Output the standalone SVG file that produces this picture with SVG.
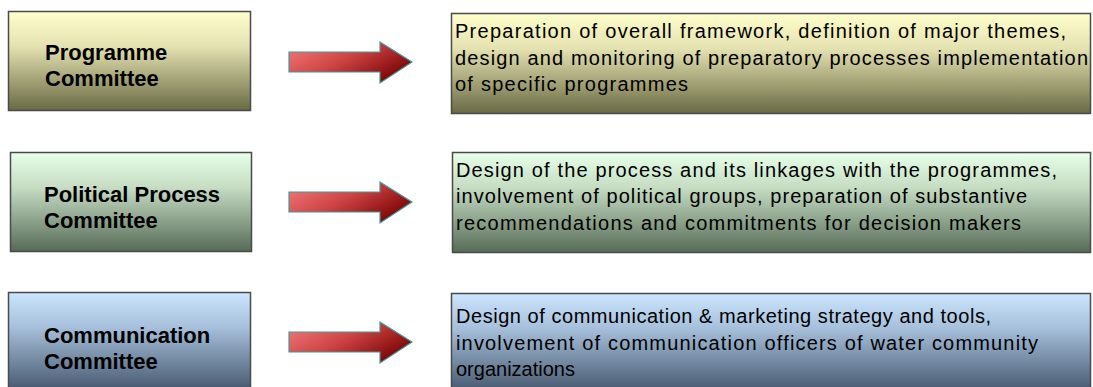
<svg xmlns="http://www.w3.org/2000/svg" width="1093" height="387" viewBox="0 0 1093 387">
<defs>
<linearGradient id="gY" x1="0" y1="0" x2="0" y2="1"><stop offset="0" stop-color="#FFFFCC"/><stop offset="0.35" stop-color="#E4E2B0"/><stop offset="1" stop-color="#696944"/></linearGradient>
<linearGradient id="gG" x1="0" y1="0" x2="0" y2="1"><stop offset="0" stop-color="#E8FFE8"/><stop offset="0.35" stop-color="#C6DDC4"/><stop offset="1" stop-color="#566B56"/></linearGradient>
<linearGradient id="gB" x1="0" y1="0" x2="0" y2="1"><stop offset="0" stop-color="#CCE6FF"/><stop offset="0.35" stop-color="#A6BFDA"/><stop offset="1" stop-color="#43556C"/></linearGradient>
<linearGradient id="gR" x1="0" y1="0" x2="1" y2="0.6"><stop offset="0" stop-color="#F47C7C"/><stop offset="0.5" stop-color="#D04545"/><stop offset="1" stop-color="#7E0606"/></linearGradient>
<path id="arrow" d="M0,-10 H91 V-20 L123,0 L91,21 V10 H0 Z"/>
</defs>
<style>
.box{stroke:#4A4A4A;stroke-width:1.5}
.lbl{font-family:"Liberation Sans",Arial,sans-serif;font-weight:bold;font-size:22px;fill:#000}
.desc{font-family:"Liberation Sans",Arial,sans-serif;font-size:20px;fill:#000}
.arr{fill:url(#gR);stroke:#3F9C9C;stroke-width:1.2}
</style>
<rect width="1093" height="387" fill="#FFFFFF"/>
<g id="programme-committee">
<rect class="box" x="8.5" y="11.5" width="242" height="99" fill="url(#gY)"/>
<text class="lbl" x="45" y="60">Programme</text>
<text class="lbl" x="45" y="86">Committee</text>
</g>
<g id="programme-desc">
<rect class="box" x="451.5" y="13.5" width="639" height="100" fill="url(#gY)"/>
<text class="desc" x="455" y="38" textLength="611" lengthAdjust="spacing">Preparation of overall framework, definition of major themes,</text>
<text class="desc" x="455" y="65" textLength="633" lengthAdjust="spacing">design and monitoring of preparatory processes implementation</text>
<text class="desc" x="455" y="91" textLength="233" lengthAdjust="spacing">of specific programmes</text>
</g>
<g id="political-committee">
<rect class="box" x="10.5" y="152.5" width="241" height="99" fill="url(#gG)"/>
<text class="lbl" x="44" y="202">Political Process</text>
<text class="lbl" x="44" y="228">Committee</text>
</g>
<g id="political-desc">
<rect class="box" x="452.5" y="152.5" width="638" height="100" fill="url(#gG)"/>
<text class="desc" x="456" y="177" textLength="601" lengthAdjust="spacing">Design of the process and its linkages with the programmes,</text>
<text class="desc" x="456" y="203" textLength="571" lengthAdjust="spacing">involvement of political groups, preparation of substantive</text>
<text class="desc" x="456" y="230" textLength="565" lengthAdjust="spacing">recommendations and commitments for decision makers</text>
</g>
<g id="communication-committee">
<rect class="box" x="8.5" y="292.5" width="242" height="100" fill="url(#gB)"/>
<text class="lbl" x="44" y="343">Communication</text>
<text class="lbl" x="44" y="369">Committee</text>
</g>
<g id="communication-desc">
<rect class="box" x="451.5" y="293.5" width="639" height="100" fill="url(#gB)"/>
<text class="desc" x="456" y="323" textLength="535" lengthAdjust="spacing">Design of communication &amp; marketing strategy and tools,</text>
<text class="desc" x="456" y="350" textLength="582" lengthAdjust="spacing">involvement of communication officers of water community</text>
<text class="desc" x="456" y="376">organizations</text>
</g>
<g id="connectors">
<use href="#arrow" class="arr" x="289" y="62"/>
<use href="#arrow" class="arr" x="289" y="202"/>
<use href="#arrow" class="arr" x="289" y="342"/>
</g>
</svg>
